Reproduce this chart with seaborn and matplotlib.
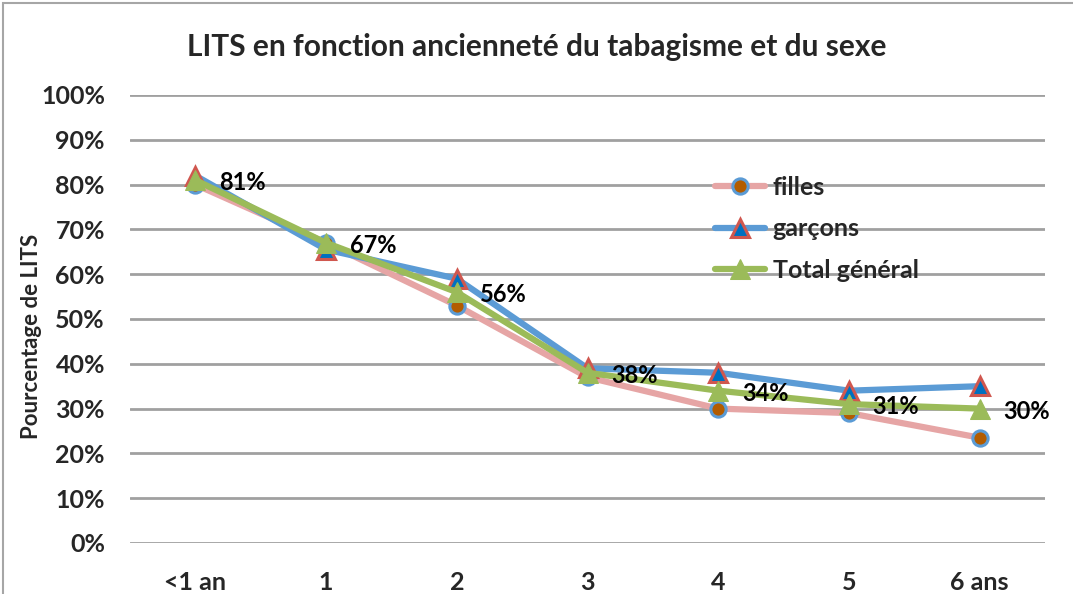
import matplotlib
matplotlib.use('Agg')
import matplotlib.pyplot as plt
import seaborn as sns
import pandas as pd
from matplotlib.patches import Rectangle

categories = ['<1 an', '1', '2', '3', '4', '5', '6 ans']
filles = [0.80, 0.67, 0.53, 0.37, 0.30, 0.29, 0.235]
garcons = [0.82, 0.655, 0.59, 0.39, 0.38, 0.34, 0.35]
total = [0.81, 0.67, 0.56, 0.38, 0.34, 0.31, 0.30]
total_labels = ['81%', '67%', '56%', '38%', '34%', '31%', '30%']
y_ticks = [0, 0.1, 0.2, 0.3, 0.4, 0.5, 0.6, 0.7, 0.8, 0.9, 1.0]

sns.set_theme(style='white')
plt.rcParams['font.family'] = ['Lato', 'DejaVu Sans']
plt.rcParams['font.weight'] = 'bold'

df = pd.DataFrame({'cat': categories, 'filles': filles, 'garçons': garcons,
                   'Total général': total})

fig = plt.figure(figsize=(10.73, 5.94), dpi=100)
ax = fig.add_axes([130 / 1073, 1 - 543 / 594, 915 / 1073, 448 / 594])

# cadre du graphique
fig.patches.append(Rectangle((3 / 1073, -0.1), 1.2, 1 - 3 / 594 + 0.1,
                             transform=fig.transFigure, fill=False,
                             edgecolor='#A6A6A6', linewidth=1.5))

lw = 4.5
sns.lineplot(data=df, x='cat', y='filles', ax=ax, color='#E6A5A5', linewidth=lw,
             marker='o', markersize=11, markerfacecolor='#B35C00',
             markeredgecolor='#5B9BD5', markeredgewidth=2.2, label='filles',
             sort=False)
sns.lineplot(data=df, x='cat', y='garçons', ax=ax, color='#5B9BD5', linewidth=lw,
             marker='^', markersize=13, markerfacecolor='#0070C0',
             markeredgecolor='#D0574F', markeredgewidth=2.2, label='garçons',
             sort=False)
sns.lineplot(data=df, x='cat', y='Total général', ax=ax, color='#9BBB59',
             linewidth=lw, marker='^', markersize=14, markerfacecolor='#9BBB59',
             markeredgecolor='#9BBB59', label='Total général', sort=False)

for i, (v, t) in enumerate(zip(total, total_labels)):
    ax.annotate(t, (i, v), xytext=(17, -2), textcoords='offset points',
                ha='left', va='center', fontsize=17, fontweight='bold',
                color='black')

ax.set_xlim(-0.5, len(categories) - 0.5)
ax.set_ylim(0, 1)
ax.set_yticks(y_ticks)
ax.set_yticklabels([f'{int(round(t * 100))}%' for t in y_ticks])
ax.yaxis.grid(True, color='#A0A0A0', linewidth=2)
ax.xaxis.grid(False)
for s in ax.spines.values():
    s.set_visible(False)
ax.tick_params(axis='y', length=0, pad=18, labelsize=18)
ax.tick_params(axis='x', length=0, pad=20, labelsize=18)
ax.set_xlabel('')
ax.set_ylabel('Pourcentage de LITS', fontsize=16, fontweight='bold')
ax.yaxis.label.set_va('center')
ax.yaxis.set_label_coords(-0.108, 0.462)

fig.suptitle('LITS en fonction ancienneté du tabagisme et du sexe', x=0.5,
             y=1 - 47 / 594, va='center', fontsize=21.5, fontweight='bold')

leg = ax.legend(loc='upper left', bbox_to_anchor=(0.615, 0.87), frameon=False,
                fontsize=18, handlelength=2.0, labelspacing=0.75,
                handletextpad=0.3)

fig.savefig('out.png', dpi=100)
